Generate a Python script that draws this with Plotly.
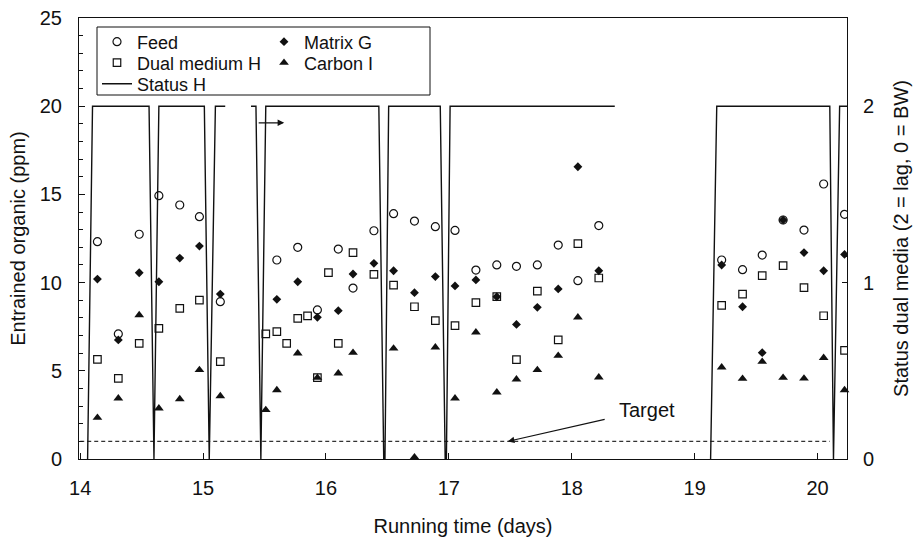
import plotly.graph_objects as go

# Sampling times (days) shared by the four organic series
time_days = [14.14, 14.31, 14.48, 14.64, 14.81, 14.97, 15.14,
             15.51, 15.60, 15.68, 15.77, 15.85, 15.93, 16.02, 16.10, 16.22, 16.39,
             16.55, 16.72, 16.89, 17.05, 17.22, 17.39, 17.55, 17.72, 17.89, 18.05, 18.22,
             19.22, 19.39, 19.55, 19.72, 19.89, 20.05, 20.22]

# Entrained organic (ppm)
feed = [12.32, 7.09, 12.74, 14.93, 14.40, 13.74, 8.92,
        None, 11.28, None, 12.00, None, 8.45, None, 11.90, 9.69, 12.94,
        13.91, 13.49, 13.17, 12.96, 10.71, 11.00, 10.92, 11.00, 12.13, 10.11, 13.23,
        11.28, 10.73, 11.56, 13.55, 12.98, 15.59, 13.87]
matrix_g = [10.20, 6.75, 10.56, 10.05, 11.39, 12.07, 9.35,
            None, 9.05, None, 10.05, None, 8.03, None, 8.41, 10.49, 11.09,
            10.67, 9.43, 10.34, 9.81, 10.15, 9.20, 7.63, 8.60, 9.64, 16.57, 10.67,
            11.00, 8.63, 6.03, 13.55, 11.70, 10.67, 11.60]
dual_medium_h = [5.65, 4.57, 6.56, 7.41, 8.54, 9.01, 5.52,
                 7.09, 7.22, 6.56, 7.97, 8.11, 4.61, 10.56, 6.56, 11.70, 10.47,
                 9.86, 8.63, 7.84, 7.56, 8.86, 9.20, 5.63, 9.52, 6.75, 12.21, 10.26,
                 8.71, 9.35, 10.39, 10.96, 9.71, 8.12, 6.16]
carbon_i = [2.34, 3.44, 8.16, 2.87, 3.40, 5.05, 3.57,
            2.78, 3.91, None, 5.99, None, 4.61, None, 4.86, 6.03, None,
            6.27, 0.10, 6.33, 3.44, 7.18, 3.78, 4.52, 5.05, 5.86, 8.03, 4.63,
            5.20, 4.55, 5.52, 4.61, 4.57, 5.74, 3.91]

# Status of dual media bed H (2 = lag, 0 = backwash); None = no record
status_t = [14.06, 14.10, 14.56, 14.60, 14.64, 15.01, 15.05, 15.10, 15.18, None,
            15.39, 15.43, 15.47, 15.51, 16.43, 16.47, 16.48, 16.51, 16.93, 16.97,
            16.98, 17.01, 18.35, None,
            19.13, 19.18, 20.10, 20.13, 20.18, 20.24]
status_h = [0, 2, 2, 0, 2, 2, 0, 2, 2, None,
            2, 2, 0, 2, 2, 0, 0, 2, 2, 0,
            0, 2, 2, None,
            0, 2, 2, 0, 2, 2]

target_ppm = 1.0
target_span = [14.0, 20.10]

x_ticks = [14, 15, 16, 17, 18, 19, 20]

FONT = "Liberation Sans, Arial, Helvetica, sans-serif"
INK = "#111111"
TXT = 20

# Plot-area geometry in pixels, used to place the legend block
PLOT_L, PLOT_W, PLOT_B, PLOT_H = 79, 768, 459, 441


def px_x(px):
    return (px - PLOT_L) / PLOT_W


def px_y(py):
    return (PLOT_B - py) / PLOT_H


fig = go.Figure()

fig.add_trace(go.Scatter(
    x=time_days, y=feed, mode="markers", name="Feed",
    marker=dict(symbol="circle-open", size=8, color=INK, line=dict(width=1.2, color=INK)),
    legend="legend"))
fig.add_trace(go.Scatter(
    x=time_days, y=dual_medium_h, mode="markers", name="Dual medium H",
    marker=dict(symbol="square-open", size=7.5, color=INK, line=dict(width=1.2, color=INK)),
    legend="legend2"))
fig.add_trace(go.Scatter(
    x=status_t, y=status_h, mode="lines", name="Status H", yaxis="y2",
    line=dict(color=INK, width=1.4), legend="legend3"))
fig.add_trace(go.Scatter(
    x=time_days, y=matrix_g, mode="markers", name="Matrix G",
    marker=dict(symbol="diamond", size=6.8, color=INK),
    legend="legend4"))
fig.add_trace(go.Scatter(
    x=time_days, y=carbon_i, mode="markers", name="Carbon I",
    marker=dict(symbol="triangle-up", size=8.5, color=INK),
    cliponaxis=False, legend="legend5"))

# Target level
fig.add_trace(go.Scatter(
    x=target_span, y=[target_ppm, target_ppm], mode="lines", showlegend=False,
    line=dict(color="#333333", width=1.3, dash="4px,3px"), hoverinfo="skip"))

# Arrow tying the status line to the right-hand axis
fig.add_annotation(x=15.66, y=19.06, ax=15.44, ay=19.06, xref="x", yref="y",
                   axref="x", ayref="y", text="", showarrow=True,
                   arrowhead=2, arrowsize=1.1, arrowwidth=1.2, arrowcolor=INK)

# Target label and pointer
fig.add_annotation(x=17.48, y=target_ppm, ax=18.28, ay=2.27, xref="x", yref="y",
                   axref="x", ayref="y", text="", showarrow=True,
                   arrowhead=2, arrowsize=1.1, arrowwidth=1.2, arrowcolor=INK)
fig.add_annotation(x=18.61, y=2.78, xref="x", yref="y", text="Target",
                   showarrow=False, font=dict(family=FONT, size=TXT, color=INK))

# Legend frame around both legend columns
fig.add_shape(type="rect", xref="paper", yref="paper",
              x0=px_x(97), x1=px_x(430), y0=px_y(95), y1=px_y(27),
              line=dict(color=INK, width=1), fillcolor="rgba(0,0,0,0)")

axis_common = dict(showgrid=False, zeroline=False, showline=True, automargin=False,
                   linecolor=INK, linewidth=1, tickcolor=INK,
                   tickfont=dict(family=FONT, size=TXT, color=INK))


def legend_at(left_px, top_px):
    return dict(x=px_x(left_px), y=px_y(top_px), xanchor="left", yanchor="top",
                bgcolor="rgba(0,0,0,0)", borderwidth=0,
                font=dict(family=FONT, size=18, color=INK))


fig.update_layout(
    width=918, height=539,
    margin=dict(l=PLOT_L, r=918 - PLOT_L - PLOT_W, t=PLOT_B - PLOT_H, b=539 - PLOT_B),
    plot_bgcolor="white", paper_bgcolor="white",
    font=dict(family=FONT, size=TXT, color=INK),
    xaxis=dict(range=[13.99, 20.24], tickvals=x_ticks, ticks="inside", ticklen=6,
               mirror=True, ticklabelstandoff=11,
               title=dict(text="Running time (days)", standoff=20,
                          font=dict(family=FONT, size=TXT, color=INK)),
               **axis_common),
    yaxis=dict(range=[0, 25], tickvals=[0, 5, 10, 15, 20, 25], ticks="inside", ticklen=6,
               minor=dict(dtick=1, ticks="inside", ticklen=4, tickcolor=INK),
               ticklabelstandoff=12,
               title=dict(text="Entrained organic (ppm)", standoff=8,
                          font=dict(family=FONT, size=TXT, color=INK)),
               **axis_common),
    yaxis2=dict(range=[0, 2.5], overlaying="y", side="right", tickvals=[0, 1, 2],
                ticks="inside", ticklen=5, ticklabelstandoff=11,
                title=dict(text="Status dual media (2 = lag, 0 = BW)", standoff=20,
                           font=dict(family=FONT, size=TXT, color=INK)),
                **axis_common),
    legend=legend_at(97, 23.5),
    legend2=legend_at(97, 44.5),
    legend3=legend_at(97, 65.5),
    legend4=legend_at(264, 23.5),
    legend5=legend_at(264, 44.5),
)

fig.write_html("out.html")
